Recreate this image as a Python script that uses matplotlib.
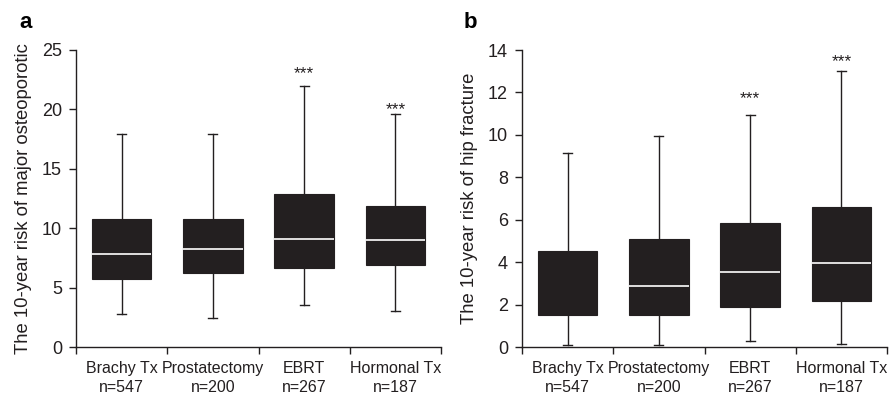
import matplotlib
matplotlib.use("Agg")
import matplotlib.pyplot as plt

plt.rcParams['font.family'] = ['Liberation Sans', 'DejaVu Sans']

categories = ["Brachy Tx", "Prostatectomy", "EBRT", "Hormonal Tx"]
counts = ["n=547", "n=200", "n=267", "n=187"]

# Panel a: major osteoporotic fracture risk
a_whislo = [2.8, 2.4, 3.5, 3.05]
a_q1 = [5.75, 6.25, 6.65, 6.9]
a_med = [7.85, 8.22, 9.05, 9.0]
a_q3 = [10.8, 10.8, 12.87, 11.83]
a_whishi = [17.9, 17.9, 22.0, 19.65]
a_stars = [None, None, "***", "***"]

# Panel b: hip fracture risk
b_whislo = [0.1, 0.1, 0.28, 0.15]
b_q1 = [1.52, 1.52, 1.88, 2.17]
b_med = [None, 2.86, 3.55, 3.95]
b_q3 = [4.52, 5.08, 5.84, 6.6]
b_whishi = [9.15, 9.95, 10.95, 13.02]
b_stars = [None, None, "***", "***"]

DARK = "#231f20"

fig = plt.figure(figsize=(8.94, 3.96), dpi=100)
ax_a = fig.add_axes([76/894, 1-347/396, (441-76)/894, (347-50)/396])
ax_b = fig.add_axes([522/894, 1-347/396, (887-522)/894, (347-50)/396])


def draw(ax, lo, q1, med, q3, hi, stars, ymax, yticks, ylabel, star_y):
    stats = []
    for i in range(len(categories)):
        m = med[i] if med[i] is not None else q1[i]
        stats.append(dict(whislo=lo[i], q1=q1[i], med=m, q3=q3[i], whishi=hi[i], fliers=[]))
    pos = list(range(1, len(categories) + 1))
    art = ax.bxp(stats, positions=pos, widths=0.65, patch_artist=True, showfliers=False,
                 boxprops=dict(facecolor=DARK, edgecolor=DARK, linewidth=0.8),
                 whiskerprops=dict(color=DARK, linewidth=1.0),
                 capprops=dict(color=DARK, linewidth=1.0),
                 medianprops=dict(color="white", linewidth=1.2),
                 capwidths=0.1, manage_ticks=False)
    for i, m in enumerate(med):
        if m is None:
            art["medians"][i].set_visible(False)
    for i, s in enumerate(stars):
        if s:
            ax.text(pos[i], star_y[i], s, ha="center", va="center", fontsize=12.5, color=DARK)
    ax.set_xlim(0.5, len(categories) + 0.5)
    ax.set_ylim(0, ymax)
    ax.set_yticks(yticks)
    ax.set_xticks([i + 0.5 for i in range(len(categories) + 1)])
    ax.set_xticklabels([])
    ax.set_xticks(pos, minor=True)
    ax.set_xticklabels([f"{c}\n{n}" for c, n in zip(categories, counts)], minor=True,
                       fontsize=11.5, linespacing=1.35, color=DARK)
    ax.tick_params(axis="x", which="minor", length=0, pad=10)
    ax.tick_params(axis="x", which="major", length=5, width=1, color=DARK)
    ax.tick_params(axis="y", length=5, width=1, color=DARK, labelsize=13, pad=5,
                   labelcolor=DARK)
    for sp in ["top", "right"]:
        ax.spines[sp].set_visible(False)
    for sp in ["left", "bottom"]:
        ax.spines[sp].set_color(DARK)
        ax.spines[sp].set_linewidth(1)
    ax.set_ylabel(ylabel, fontsize=13.3, color=DARK, labelpad=7)


draw(ax_a, a_whislo, a_q1, a_med, a_q3, a_whishi, a_stars, 25, [0, 5, 10, 15, 20, 25],
     "The 10-year risk of major osteoporotic", [None, None, 23.0, 20.0])
draw(ax_b, b_whislo, b_q1, b_med, b_q3, b_whishi, b_stars, 14, [0, 2, 4, 6, 8, 10, 12, 14],
     "The 10-year risk of hip fracture", [None, None, 11.7, 13.45])

fig.text(26/894, 1-22/396, "a", fontsize=16, fontweight="bold", ha="center", va="center")
fig.text(470/894, 1-22/396, "b", fontsize=16, fontweight="bold", ha="center", va="center")

fig.savefig("out.png", dpi=100)
